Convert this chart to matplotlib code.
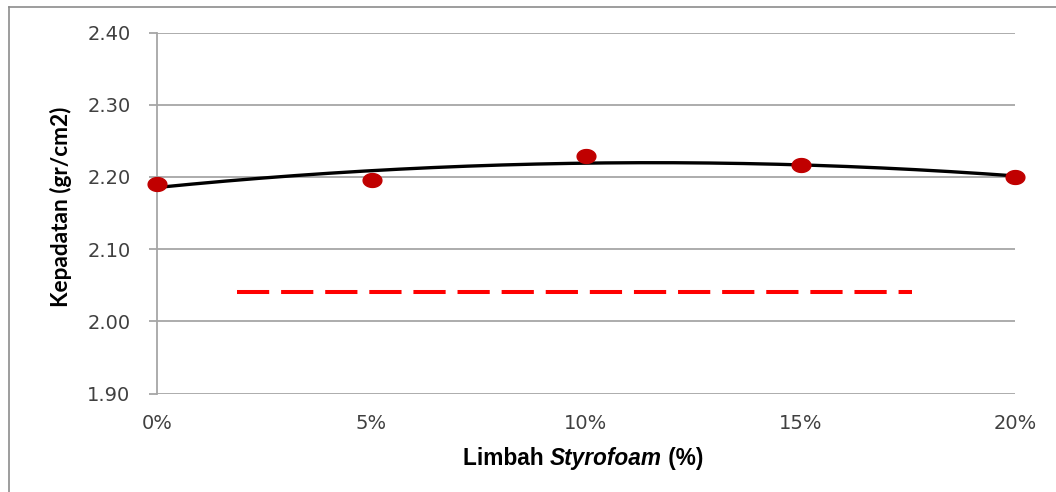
import numpy as np
import matplotlib
matplotlib.use("Agg")
import matplotlib.pyplot as plt
from matplotlib.path import Path
from matplotlib.lines import Line2D

# data
kadar = [0, 5, 10, 15, 20]          # limbah styrofoam (%)
kepadatan = [2.190, 2.196, 2.229, 2.216, 2.200]
batas = 2.04                         # red dashed reference line
batas_x = [1.86, 17.6]

y_ticks = [1.90, 2.00, 2.10, 2.20, 2.30, 2.40]
x_ticks = [0, 5, 10, 15, 20]
x_labels = ["0%", "5%", "10%", "15%", "20%"]

grid_col = "#A6A6A6"
tick_col = "#404040"

fig = plt.figure(figsize=(10.56, 4.92), dpi=100)
ax = fig.add_axes([157/1056, 1-393.5/492, 858/1056, 361/492])

# trend line (2nd order polynomial, like the excel trendline)
coef = np.polyfit(kadar, kepadatan, 2)
xs = np.linspace(0, 20, 200)
ax.plot(xs, np.polyval(coef, xs), color="black", lw=2.4, zorder=3, clip_on=False)

# slightly wide ellipse marker (the picture is stretched sideways)
t = np.linspace(0, 2*np.pi, 60)
ell = Path(np.column_stack([np.cos(t), 0.74*np.sin(t)]), closed=True)
ax.plot(kadar, kepadatan, ls="none", marker=ell, ms=13.5,
        color="#C00000", mec="#C00000", zorder=4, clip_on=False)

ax.plot(batas_x, [batas, batas], color="#FF0000", lw=2.9,
        dashes=(8, 2.95), dash_capstyle="butt", zorder=2)

ax.set_xlim(0, 20)
ax.set_ylim(1.90, 2.40)
ax.set_yticks(y_ticks)
ax.set_yticklabels([f"{v:.2f}" for v in y_ticks])
ax.set_xticks(x_ticks)
ax.set_xticklabels(x_labels)

ax.grid(axis="y", color=grid_col, lw=1.3)
ax.set_axisbelow(True)
for s in ["top", "right", "bottom"]:
    ax.spines[s].set_visible(False)
ax.spines["left"].set_color(grid_col)
ax.spines["left"].set_linewidth(1.3)

ax.tick_params(axis="y", direction="out", length=6, width=1.3, color=grid_col,
               pad=13, labelsize=14, labelcolor=tick_col)
ax.tick_params(axis="x", length=0, pad=15, labelsize=14, labelcolor=tick_col)
for lab in ax.get_xticklabels() + ax.get_yticklabels():
    lab.set_family("DejaVu Sans")

# axis titles
fig.text(61/1056, 1-207/492, "Kepadatan (gr/cm2)", rotation=90, ha="center",
         va="center", family="Lato", weight="bold", fontsize=16.3)

t1 = fig.text(463/1056, 1-465/492, "Limbah ", family="Liberation Sans", weight="bold",
              fontsize=16.3, ha="left", va="baseline")
t2 = ax.annotate("Styrofoam", xy=(1, 0), xycoords=t1, va="bottom", ha="left",
                 family="Liberation Sans", weight="bold", style="italic", fontsize=16.3)
ax.annotate(" (%)", xy=(1, 0), xycoords=t2, va="bottom", ha="left",
            family="Liberation Sans", weight="bold", fontsize=16.3)

# outer chart frame
fig.add_artist(Line2D([9/1056, 9/1056], [0, 1-7/492], transform=fig.transFigure,
                      color="#8C8C8C", lw=1.2))
fig.add_artist(Line2D([9/1056, 1], [1-7/492, 1-7/492], transform=fig.transFigure,
                      color="#8C8C8C", lw=1.2))

fig.savefig("out.png", dpi=100)
